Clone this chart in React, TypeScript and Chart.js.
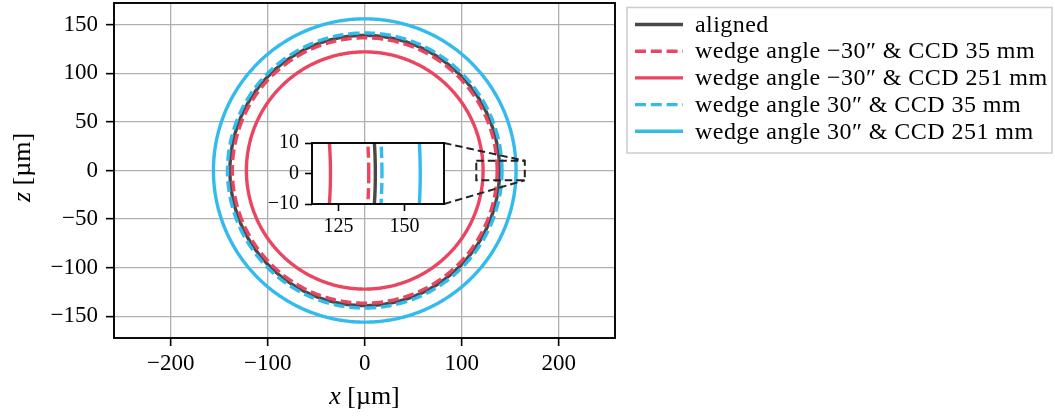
import React, { useEffect, useRef } from 'react';
import { Chart, registerables } from 'chart.js';

Chart.register(...registerables);

// ---------- data ----------
const seriesLabels = [
  'aligned',
  'wedge angle \u221230\u2033 & CCD 35 mm',
  'wedge angle \u221230\u2033 & CCD 251 mm',
  'wedge angle 30\u2033 & CCD 35 mm',
  'wedge angle 30\u2033 & CCD 251 mm',
];
const seriesRadius = [139, 136.5, 122, 141.5, 156];
const seriesCenterX = [0, 0, 0, 0, 0];
const seriesCenterZ = [0, 0, 0, 0, 0];
const seriesColors = ['#484848', '#EA4662', '#EA4662', '#33BBEE', '#33BBEE'];
const seriesDashed = [false, true, false, true, false];

const xTicks = [-200, -100, 0, 100, 200];
const zTicks = [-150, -100, -50, 0, 50, 100, 150];
const xRange = [-258.5, 258];
const zRange = [-172.3, 172.3];

const insetXTicks = [125, 150];
const insetZTicks = [-10, 0, 10];
const insetXRange = [115, 165];
const insetZRange = [-10, 10];

// ---------- layout constants ----------
const W = 1055;
const H = 417;
const MAIN = { left: 114, top: 3, right: 615, bottom: 338 };
const INSET = { left: 312, top: 143, right: 444, bottom: 204 };
const INSET_CANVAS = { left: 232, top: 125, width: 236, height: 130 };
const FONT = '"Liberation Serif", "Times New Roman", serif';
const LINE_W = 3.4;
const DASH = [11, 4.8];

const angleStepDeg = 1;

function circlePoints(i: number) {
  const pts: { x: number; y: number }[] = [];
  const n = Math.round(360 / angleStepDeg);
  for (let k = 0; k <= n; k++) {
    const a = (k * angleStepDeg * Math.PI) / 180;
    pts.push({
      x: seriesCenterX[i] + seriesRadius[i] * Math.cos(a),
      y: seriesCenterZ[i] + seriesRadius[i] * Math.sin(a),
    });
  }
  return pts;
}

function buildDatasets() {
  return seriesLabels.map((label, i) => ({
    label,
    data: circlePoints(i),
    borderColor: seriesColors[i],
    backgroundColor: seriesColors[i],
    borderWidth: LINE_W,
    borderDash: seriesDashed[i] ? DASH : [],
    borderJoinStyle: 'round',
    pointRadius: 0,
    tension: 0.0001,
    fill: false,
    order: seriesLabels.length - i,
    clip: 0,
  }));
}

const fmt = (v: number) => (v < 0 ? '\u2212' + Math.abs(v) : String(v));

function zeroPad(s: any) {
  s.paddingLeft = 0;
  s.paddingRight = 0;
  s.paddingTop = 0;
  s.paddingBottom = 0;
}

function drawMixed(ctx: CanvasRenderingContext2D, parts: [string, string][], cx: number, cy: number, size: number) {
  let total = 0;
  const widths = parts.map(([t, style]) => {
    ctx.font = `${style} ${size}px ${FONT}`;
    const w = ctx.measureText(t).width;
    total += w;
    return w;
  });
  let x = cx - total / 2;
  ctx.textBaseline = 'middle';
  ctx.textAlign = 'left';
  parts.forEach(([t, style], i) => {
    ctx.font = `${style} ${size}px ${FONT}`;
    ctx.fillText(t, x, cy);
    x += widths[i];
  });
}

const mainPlugin = {
  id: 'mainDecor',
  afterDraw(chart: any) {
    const { ctx, chartArea, scales } = chart;
    ctx.save();
    // spines
    ctx.strokeStyle = '#000';
    ctx.lineWidth = 1.9;
    ctx.setLineDash([]);
    ctx.strokeRect(chartArea.left, chartArea.top, chartArea.right - chartArea.left, chartArea.bottom - chartArea.top);

    // inset indicator rectangle
    const rx0 = scales.x.getPixelForValue(insetXRange[0]);
    const rx1 = scales.x.getPixelForValue(insetXRange[1]);
    const ry0 = scales.y.getPixelForValue(insetZRange[1]);
    const ry1 = scales.y.getPixelForValue(insetZRange[0]);
    ctx.strokeStyle = '#222222';
    ctx.lineWidth = 2;
    ctx.setLineDash([7.5, 4]);
    ctx.strokeRect(rx0, ry0, rx1 - rx0, ry1 - ry0);
    // connectors
    ctx.beginPath();
    ctx.moveTo(INSET.right, INSET.top);
    ctx.lineTo(rx1, ry0);
    ctx.moveTo(INSET.right, INSET.bottom);
    ctx.lineTo(rx1, ry1);
    ctx.stroke();
    ctx.setLineDash([]);

    // axis titles
    ctx.fillStyle = '#000';
    drawMixed(ctx, [['x', 'italic'], [' [\u00b5m]', 'normal']], (chartArea.left + chartArea.right) / 2, chartArea.bottom + 59, 26);
    ctx.save();
    ctx.translate(23, (chartArea.top + chartArea.bottom) / 2 - 3);
    ctx.rotate(-Math.PI / 2);
    drawMixed(ctx, [['z', 'italic'], [' [\u00b5m]', 'normal']], 0, 0, 26);
    ctx.restore();

    // legend
    const lx = 627, ly = 7.5, lw = 425, lh = 145.5;
    ctx.fillStyle = 'rgba(255,255,255,0.8)';
    ctx.fillRect(lx, ly, lw, lh);
    ctx.strokeStyle = '#cccccc';
    ctx.lineWidth = 1.5;
    ctx.strokeRect(lx, ly, lw, lh);
    seriesLabels.forEach((label, i) => {
      const y = 24.5 + i * 26.7;
      ctx.strokeStyle = seriesColors[i];
      ctx.lineWidth = LINE_W;
      ctx.setLineDash(seriesDashed[i] ? DASH : []);
      ctx.beginPath();
      ctx.moveTo(635, y);
      ctx.lineTo(683, y);
      ctx.stroke();
      ctx.setLineDash([]);
      ctx.fillStyle = '#000';
      ctx.font = `24px ${FONT}`;
      ctx.textAlign = 'left';
      ctx.textBaseline = 'middle';
      try { (ctx as any).letterSpacing = '0.45px'; } catch (e) {}
      ctx.fillText(label, 695, y + 1);
      try { (ctx as any).letterSpacing = '0px'; } catch (e) {}
    });
    ctx.restore();
  },
};

const insetPlugin = {
  id: 'insetDecor',
  beforeDraw(chart: any) {
    const { ctx, chartArea } = chart;
    ctx.save();
    ctx.fillStyle = '#ffffff';
    ctx.fillRect(chartArea.left, chartArea.top, chartArea.right - chartArea.left, chartArea.bottom - chartArea.top);
    ctx.restore();
  },
  afterDraw(chart: any) {
    const { ctx, chartArea } = chart;
    ctx.save();
    ctx.strokeStyle = '#000';
    ctx.lineWidth = 1.9;
    ctx.strokeRect(chartArea.left, chartArea.top, chartArea.right - chartArea.left, chartArea.bottom - chartArea.top);
    ctx.restore();
  },
};

export default function App() {
  const mainRef = useRef<HTMLCanvasElement | null>(null);
  const insetRef = useRef<HTMLCanvasElement | null>(null);

  useEffect(() => {
    if (!mainRef.current || !insetRef.current) return;
    const tickFont = { family: FONT, size: 23 };
    const main = new Chart(mainRef.current, {
      type: 'line',
      data: { datasets: buildDatasets() as any },
      options: {
        animation: false,
        responsive: false,
        devicePixelRatio: 1,
        layout: { padding: { left: 0, top: MAIN.top, right: W - MAIN.right, bottom: 0 } },
        plugins: { legend: { display: false }, tooltip: { enabled: false } },
        scales: {
          x: {
            type: 'linear',
            min: xRange[0],
            max: xRange[1],
            afterBuildTicks: (s: any) => { s.ticks = xTicks.map((v) => ({ value: v })); },
            afterFit: (s: any) => { s.height = H - MAIN.bottom; zeroPad(s); },
            grid: { color: '#b0b0b0', lineWidth: 1.3, drawTicks: true, tickLength: 8, tickColor: '#000', tickWidth: 1.6 },
            border: { display: false },
            ticks: { font: tickFont, color: '#000', padding: 4, maxRotation: 0, autoSkip: false, callback: (v: any) => fmt(Number(v)) },
          },
          y: {
            type: 'linear',
            min: zRange[0],
            max: zRange[1],
            afterBuildTicks: (s: any) => { s.ticks = zTicks.map((v) => ({ value: v })); },
            afterFit: (s: any) => { s.width = MAIN.left; zeroPad(s); },
            grid: { color: '#b0b0b0', lineWidth: 1.3, drawTicks: true, tickLength: 8, tickColor: '#000', tickWidth: 1.6 },
            border: { display: false },
            ticks: { font: tickFont, color: '#000', padding: 8, autoSkip: false, callback: (v: any) => fmt(Number(v)) },
          },
        },
      },
      plugins: [mainPlugin],
    });

    const insetFont = { family: FONT, size: 20 };
    const inset = new Chart(insetRef.current, {
      type: 'line',
      data: { datasets: buildDatasets() as any },
      options: {
        animation: false,
        responsive: false,
        devicePixelRatio: 1,
        layout: {
          padding: {
            left: 0,
            top: INSET.top - INSET_CANVAS.top,
            right: INSET_CANVAS.left + INSET_CANVAS.width - INSET.right,
            bottom: 0,
          },
        },
        plugins: { legend: { display: false }, tooltip: { enabled: false } },
        scales: {
          x: {
            type: 'linear',
            min: insetXRange[0],
            max: insetXRange[1],
            afterBuildTicks: (s: any) => { s.ticks = insetXTicks.map((v) => ({ value: v })); },
            afterFit: (s: any) => { s.height = INSET_CANVAS.top + INSET_CANVAS.height - INSET.bottom; zeroPad(s); },
            grid: { display: true, drawOnChartArea: false, drawTicks: true, tickLength: 7, tickColor: '#000', tickWidth: 1.6 },
            border: { display: false },
            ticks: { font: insetFont, color: '#000', padding: 4, maxRotation: 0, autoSkip: false, callback: (v: any) => fmt(Number(v)) },
          },
          y: {
            type: 'linear',
            min: insetZRange[0],
            max: insetZRange[1],
            afterBuildTicks: (s: any) => { s.ticks = insetZTicks.map((v) => ({ value: v })); },
            afterFit: (s: any) => { s.width = INSET.left - INSET_CANVAS.left; zeroPad(s); },
            grid: { display: true, drawOnChartArea: false, drawTicks: true, tickLength: 7, tickColor: '#000', tickWidth: 1.6 },
            border: { display: false },
            ticks: { font: insetFont, color: '#000', padding: 6, autoSkip: false, callback: (v: any) => fmt(Number(v)) },
          },
        },
      },
      plugins: [insetPlugin],
    });

    return () => {
      main.destroy();
      inset.destroy();
    };
  }, []);

  return (
    <div style={{ position: 'absolute', left: 0, top: 0, width: W, height: H, background: '#fff' }}>
      <canvas ref={mainRef} width={W} height={H} style={{ position: 'absolute', left: 0, top: 0, width: W, height: H }} />
      <canvas
        ref={insetRef}
        width={INSET_CANVAS.width}
        height={INSET_CANVAS.height}
        style={{ position: 'absolute', left: INSET_CANVAS.left, top: INSET_CANVAS.top, width: INSET_CANVAS.width, height: INSET_CANVAS.height }}
      />
    </div>
  );
}
